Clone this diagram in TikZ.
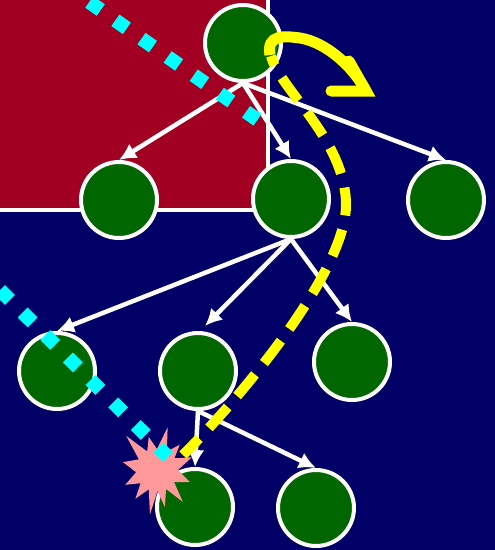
\documentclass[tikz,border=0pt]{standalone}
\usetikzlibrary{arrows.meta,calc}
\definecolor{bgblue}{RGB}{0,0,102}
\definecolor{boxred}{RGB}{162,0,34}
\definecolor{nodegreen}{RGB}{0,102,0}
\definecolor{dotcyan}{RGB}{0,255,255}
\definecolor{pathyellow}{RGB}{255,255,0}
\definecolor{starpink}{RGB}{255,153,153}
\begin{document}
\begin{tikzpicture}[x=1pt,y=-1pt,
  vert/.style={circle, fill=nodegreen, draw=white, line width=4pt, minimum size=76pt, inner sep=0pt},
  edge/.style={draw=white, line width=4.5pt, -{Latex[length=17pt,width=17pt]}},
  cyandots/.style={draw=dotcyan, line width=14pt, dash pattern=on 14pt off 17.9pt},
  ydashed/.style={draw=pathyellow, line width=10pt, dash pattern=on 28pt off 14.5pt, dash phase=18pt},
  ysolid/.style={draw=pathyellow, line width=11pt},
  ytip/.style={draw=pathyellow, line width=11pt, line cap=round, line join=miter}
]
\useasboundingbox (0,0) rectangle (495,550);
\clip (0,0) rectangle (495,550);
\fill[bgblue] (0,0) rectangle (495,550);
\filldraw[fill=boxred, draw=white, line width=4pt] (-5,-5) rectangle (267.5,210);

% nodes
\node[vert] (A) at (243,43) {};
\node[vert] (B) at (119,200) {};
\node[vert] (C) at (291,199) {};
\node[vert] (D) at (446,200) {};
\node[vert] (E) at (57,371) {};
\node[vert] (F) at (198,371) {};
\node[vert] (G) at (352,362) {};
\node[vert] (H) at (195,507) {};
\node[vert] (I) at (316,508) {};

% edges
\draw[edge] (A.south) -- (B.north);
\draw[edge] (A.south) -- (C.north);
\draw[edge] (A.south) -- (D.north);
\draw[edge] (C.south) -- (E.north);
\draw[edge] (C.south) -- ([shift={(7,-5)}]F.north);
\draw[edge] (C.south) -- (G.north);
\draw[edge] (F.south) -- (H.north);
\draw[edge] (F.south) -- (I.north);

% starburst
\coordinate (burst) at (157,470);
\fill[starpink, shift={(157,470)}] plot coordinates {
  (-76:44) (-90:21) (-104:34) (-118:21) (-132:46) (-149.5:21) (-167:35) (174:21)
  (155:35) (141:21) (127:36) (113:21) (99:45) (88.5:21) (78:38) (64.5:21)
  (51:41) (35.5:21) (20:35) (0:21) (-20:37) (-34:21) (-48:34) (-62:21)} -- cycle;

% cyan dotted lines
\coordinate (c1s) at (95,6);
\coordinate (c1e) at (252,116);
\coordinate (c2s) at (5,295);
\coordinate (c2e) at (163,452);
\draw[cyandots] ($(c1s)!-7pt!(c1e)$) -- ($(c1e)!-7pt!(c1s)$);
\draw[cyandots] ($(c2s)!-7pt!(c2e)$) -- ($(c2e)!-7pt!(c2s)$);

% yellow paths
\coordinate (ystart) at (270,55);
\coordinate (ydash) at (271,56);
\coordinate (yvertex) at (366,91);
\coordinate (yend) at (183,455);
\draw[ydashed] (ydash) .. controls (280,90) and (346,140) .. (346,205)
  .. controls (346,270) and (245,393) .. (yend);
\draw[ysolid] (ystart) .. controls (266,34) and (285,36) .. (300,38)
  .. controls (325,42) and (352,65) .. (yvertex);
\draw[ytip] (331,91) -- (yvertex) -- (349,61);
\end{tikzpicture}
\end{document}
